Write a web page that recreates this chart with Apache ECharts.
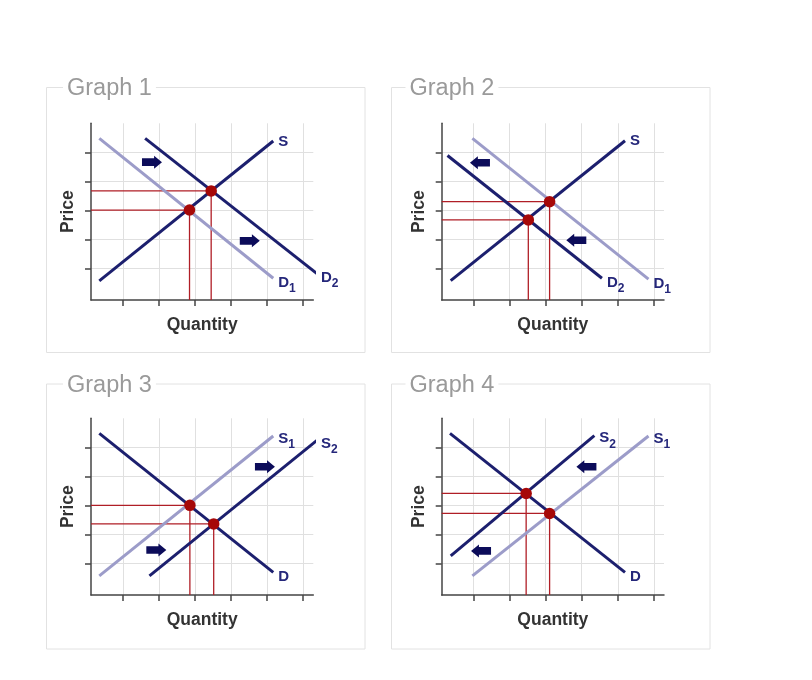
<!DOCTYPE html>
<html><head><meta charset="utf-8">
<script src="https://cdn.jsdelivr.net/npm/echarts@6/dist/echarts.min.js"></script>
<style>html,body{margin:0;padding:0;background:#fff}#c{width:812px;height:680px}</style>
</head><body><div id="c"></div>
<script>
// ---- axis data ----
const xTicks = [1, 2, 3, 4, 5, 6];
const yTicks = [1, 2, 3, 4, 5];
const xRange = [0.12, 6.28];
const yRange = [-0.09, 6];
const graphTitles = ['Graph 1', 'Graph 2', 'Graph 3', 'Graph 4'];
const xName = 'Quantity';
const yName = 'Price';

// ---- Graph 1: demand increases ----
const g1S  = [[0.35, 0.57], [5.17, 5.39]];
const g1D1 = [[0.35, 5.48], [5.17, 0.66]];
const g1D2 = [[1.62, 5.48], [6.51, 0.69]];
const g1Eq = [[2.85, 3.01], [3.45, 3.67]];
const g1Arrows = [[1.81, 4.66], [4.52, 1.95]];

// ---- Graph 2: demand decreases ----
const g2S  = [[0.37, 0.58], [5.20, 5.40]];
const g2D1 = [[0.97, 5.48], [5.85, 0.63]];
const g2D2 = [[0.28, 4.89], [4.56, 0.66]];
const g2Eq = [[3.11, 3.30], [2.52, 2.67]];
const g2Arrows = [[1.18, 4.64], [3.85, 1.97]];

// ---- Graph 3: supply increases ----
const g3D  = [[0.35, 5.48], [5.17, 0.69]];
const g3S1 = [[0.35, 0.57], [5.17, 5.39]];
const g3S2 = [[1.74, 0.57], [6.51, 5.37]];
const g3Eq = [[2.86, 3.00], [3.52, 2.36]];
const g3Arrows = [[4.94, 4.33], [1.93, 1.46]];

// ---- Graph 4: supply decreases ----
const g4D  = [[0.35, 5.48], [5.20, 0.69]];
const g4S2 = [[0.37, 1.26], [4.35, 5.40]];
const g4S1 = [[0.97, 0.57], [5.85, 5.39]];
const g4Eq = [[2.46, 3.41], [3.11, 2.72]];
const g4Arrows = [[4.13, 4.33], [1.21, 1.43]];

const graphs = [
  {lines: [{data: g1S, name: 'S', tone: 'dark'}, {data: g1D1, name: 'D', sub: '1', tone: 'light'}, {data: g1D2, name: 'D', sub: '2', tone: 'dark'}], eq: g1Eq, arrows: g1Arrows, dir: 'right'},
  {lines: [{data: g2S, name: 'S', tone: 'dark'}, {data: g2D1, name: 'D', sub: '1', tone: 'light'}, {data: g2D2, name: 'D', sub: '2', tone: 'dark'}], eq: g2Eq, arrows: g2Arrows, dir: 'left'},
  {lines: [{data: g3D, name: 'D', tone: 'dark'}, {data: g3S1, name: 'S', sub: '1', tone: 'light'}, {data: g3S2, name: 'S', sub: '2', tone: 'dark'}], eq: g3Eq, arrows: g3Arrows, dir: 'right'},
  {lines: [{data: g4D, name: 'D', tone: 'dark'}, {data: g4S2, name: 'S', sub: '2', tone: 'dark'}, {data: g4S1, name: 'S', sub: '1', tone: 'light'}], eq: g4Eq, arrows: g4Arrows, dir: 'left'}
];

// ---- styling / layout ----
const FONT = "'Liberation Sans', Arial, Helvetica, sans-serif";
const DARK = '#1c1f6e', LIGHT = '#9c9cc9', LABEL = '#25277a', RED = '#b01e26', DOT = '#a60808', ARROW = '#0c0c5a';
const GW = 222.3, GH = 176.7;
const layout = [
  {left: 91,    top: 123.3, box: [46.5, 87.5, 318.5, 265], tx: 63, ty: 76.5},
  {left: 441.7, top: 123.3, box: [391.5, 87.5, 318.5, 265], tx: 405.5, ty: 76.5},
  {left: 91,    top: 418.3, box: [46.5, 384, 318.5, 265], tx: 63, ty: 373.5},
  {left: 441.7, top: 418.3, box: [391.5, 384, 318.5, 265], tx: 405.5, ty: 373.5}
];
const ARROW_PATH = 'path://M0,2.6 L11.8,2.6 L11.8,0 L19.5,6.3 L11.8,12.6 L11.8,10 L0,10 Z';

const grid = [], xAxis = [], yAxis = [], series = [], title = [], graphic = [];
graphs.forEach((g, i) => {
  const L = layout[i];
  grid.push({left: L.left, top: L.top, width: GW, height: GH});
  xAxis.push({
    type: 'value', gridIndex: i, min: xRange[0], max: xRange[1],
    name: xName, nameLocation: 'middle', nameGap: 16,
    nameTextStyle: {fontSize: 17.5, fontWeight: 'bold', color: '#333', fontFamily: FONT},
    axisLine: {show: true, onZero: false, lineStyle: {color: '#444', width: 1.5}},
    axisTick: {show: true, length: 6, customValues: xTicks, lineStyle: {color: '#444', width: 1.5}},
    axisLabel: {show: false},
    splitLine: {show: true, lineStyle: {color: '#e0e0e0', width: 1}}
  });
  yAxis.push({
    type: 'value', gridIndex: i, min: yRange[0], max: yRange[1],
    name: yName, nameLocation: 'middle', nameGap: 14,
    nameTextStyle: {fontSize: 17.5, fontWeight: 'bold', color: '#333', fontFamily: FONT},
    axisLine: {show: true, onZero: false, lineStyle: {color: '#444', width: 1.5}},
    axisTick: {show: true, length: 6, customValues: yTicks, lineStyle: {color: '#444', width: 1.5}},
    axisLabel: {show: false},
    splitLine: {show: true, lineStyle: {color: '#e0e0e0', width: 1}}
  });
  // red guide lines
  g.eq.forEach(p => {
    series.push({
      type: 'line', xAxisIndex: i, yAxisIndex: i, z: 2, symbol: 'none', silent: true,
      data: [[xRange[0], p[1]], [p[0], p[1]], [p[0], yRange[0]]],
      lineStyle: {color: RED, width: 1.3}
    });
  });
  // supply / demand curves
  g.lines.forEach(l => {
    const up = l.data[1][1] > l.data[0][1];
    const txt = l.sub ? '{m|' + l.name + '}{s|' + l.sub + '}' : '{m|' + l.name + '}';
    series.push({
      type: 'line', xAxisIndex: i, yAxisIndex: i, z: l.tone === 'dark' ? 4 : 3, symbol: 'none', clip: false, silent: true,
      data: l.data,
      lineStyle: {color: l.tone === 'dark' ? DARK : LIGHT, width: 3},
      endLabel: {
        show: true, formatter: txt, distance: 5,
        offset: [0, up ? (l.sub ? 2.5 : 0.5) : 4.5],
        rich: {
          m: {fontSize: 15, fontWeight: 'bold', color: LABEL, fontFamily: FONT, lineHeight: 15},
          s: {fontSize: 12, fontWeight: 'bold', color: LABEL, fontFamily: FONT, lineHeight: 12, padding: [12, 0, 0, 0]}
        }
      }
    });
  });
  // equilibrium points
  series.push({
    type: 'scatter', xAxisIndex: i, yAxisIndex: i, z: 6, symbol: 'circle', symbolSize: 11.5, silent: true,
    data: g.eq, itemStyle: {color: DOT, opacity: 1}
  });
  // shift arrows
  series.push({
    type: 'scatter', xAxisIndex: i, yAxisIndex: i, z: 6, symbol: ARROW_PATH, symbolSize: [20, 13],
    symbolRotate: g.dir === 'left' ? 180 : 0, silent: true,
    data: g.arrows, itemStyle: {color: ARROW, opacity: 1}
  });
  // panel frame + title
  graphic.push({
    type: 'rect', z: 0, silent: true,
    shape: {x: L.box[0], y: L.box[1], width: L.box[2], height: L.box[3]},
    style: {fill: 'none', stroke: '#e2e2e2', lineWidth: 1}
  });
  title.push({
    text: graphTitles[i], left: L.tx, top: L.ty, padding: [0, 4], backgroundColor: '#fff', z: 10,
    textStyle: {fontSize: 23.5, fontWeight: 'normal', color: '#9a9a9a', fontFamily: FONT}
  });
});

const chart = echarts.init(document.getElementById('c'), null, {renderer: 'canvas'});
chart.setOption({
  animation: false,
  backgroundColor: '#fff',
  textStyle: {fontFamily: FONT},
  title, grid, xAxis, yAxis, series, graphic
});
</script>
</body></html>
